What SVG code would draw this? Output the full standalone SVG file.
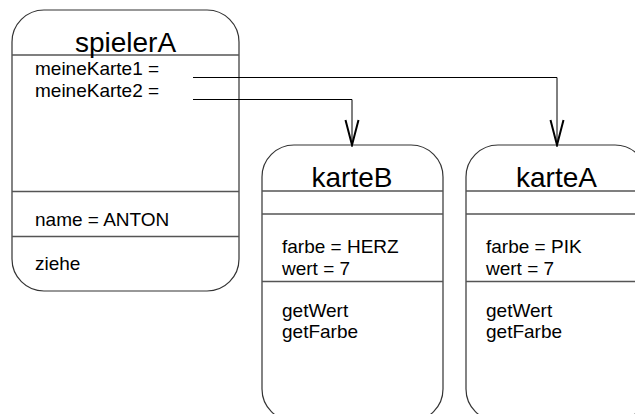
<svg xmlns="http://www.w3.org/2000/svg" width="635" height="414" viewBox="0 0 635 414">
<style>
.box{fill:#fff;stroke:#333;stroke-width:1.2}
.div{stroke:#555;stroke-width:1.3}
.t{font-family:"Liberation Sans",Arial,sans-serif;font-size:19px;fill:#000}
.h{font-family:"Liberation Sans",Arial,sans-serif;font-size:28px;fill:#000;text-anchor:middle}
.c{fill:none;stroke:#000;stroke-width:1}
</style>
<defs>
<marker id="v" markerUnits="userSpaceOnUse" viewBox="-27 -8 29 16" refX="0" refY="0" markerWidth="29" markerHeight="16" orient="auto">
<path d="M-25,-6.5 L0,0 L-25,6.5" fill="none" stroke="#000" stroke-width="2"/>
</marker>
</defs>
<rect width="635" height="414" fill="#fff"/>
<g id="spielerA">
<rect class="box" x="12" y="10" width="227" height="281" rx="32" ry="32"/>
<line class="div" x1="12" y1="55" x2="239" y2="55"/>
<line class="div" x1="12" y1="191.5" x2="239" y2="191.5"/>
<line class="div" x1="12" y1="236.5" x2="239" y2="236.5"/>
<text class="h" x="125.5" y="52">spielerA</text>
<text class="t" x="35" y="75">meineKarte1 =</text>
<text class="t" x="35" y="97">meineKarte2 =</text>
<text class="t" x="35" y="226">name = ANTON</text>
<text class="t" x="35" y="270">ziehe</text>
</g>
<g id="karteB">
<rect class="box" x="262" y="145" width="181" height="276" rx="32" ry="32"/>
<line class="div" x1="262" y1="191" x2="443" y2="191"/>
<line class="div" x1="262" y1="214" x2="443" y2="214"/>
<line class="div" x1="262" y1="281.5" x2="443" y2="281.5"/>
<text class="h" x="352" y="187">karteB</text>
<text class="t" x="282" y="253">farbe = HERZ</text>
<text class="t" x="282" y="275">wert = 7</text>
<text class="t" x="282" y="317">getWert</text>
<text class="t" x="282" y="338">getFarbe</text>
</g>
<g id="karteA">
<rect class="box" x="466" y="145" width="181" height="276" rx="32" ry="32"/>
<line class="div" x1="466" y1="191" x2="647" y2="191"/>
<line class="div" x1="466" y1="214" x2="647" y2="214"/>
<line class="div" x1="466" y1="281.5" x2="647" y2="281.5"/>
<text class="h" x="556.5" y="187">karteA</text>
<text class="t" x="486" y="253">farbe = PIK</text>
<text class="t" x="486" y="275">wert = 7</text>
<text class="t" x="486" y="317">getWert</text>
<text class="t" x="486" y="338">getFarbe</text>
</g>
<g id="connectors">
<polyline class="c" points="193,77.5 557,77.5 557,145" marker-end="url(#v)"/>
<polyline class="c" points="193,99.5 352,99.5 352,145" marker-end="url(#v)"/>
</g>
</svg>
